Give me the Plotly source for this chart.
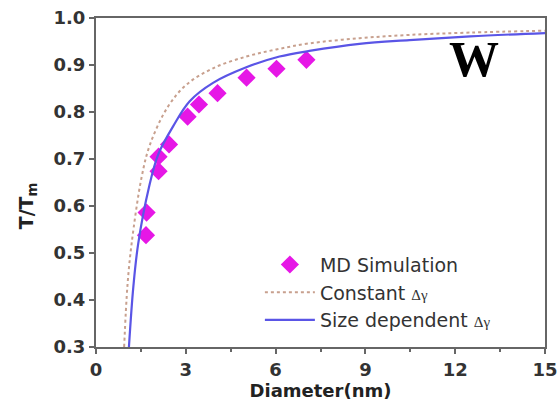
import plotly.graph_objects as go

# MD simulation points
md_d = [1.67, 1.69, 2.09, 2.09, 2.44, 3.06, 3.44, 4.06, 5.03, 6.03, 7.03]
md_t = [0.538, 0.586, 0.674, 0.705, 0.731, 0.790, 0.816, 0.840, 0.873, 0.892, 0.911]

# Constant delta-gamma curve
const_d = [0.94, 1.05, 1.19, 1.52, 1.80, 2.39, 3.02, 3.91, 5.02, 6.02, 7.13, 8.80, 10.47, 12.50, 15.00]
const_t = [0.30, 0.43, 0.52, 0.66, 0.73, 0.81, 0.858, 0.893, 0.918, 0.933, 0.946, 0.957, 0.964, 0.969, 0.973]

# Size dependent delta-gamma curve
size_d = [1.10, 1.25, 1.41, 1.77, 2.08, 2.58, 3.13, 3.91, 5.02, 6.13, 7.13, 8.80, 10.47, 12.50, 15.00]
size_t = [0.30, 0.43, 0.52, 0.64, 0.71, 0.77, 0.823, 0.862, 0.895, 0.918, 0.930, 0.945, 0.953, 0.961, 0.968]

x_ticks = [0, 3, 6, 9, 12, 15]
y_ticks = [0.3, 0.4, 0.5, 0.6, 0.7, 0.8, 0.9, 1.0]

dg = "<span style='font-family:Liberation Serif;font-size:15px'>Δγ</span>"

fig = go.Figure()
fig.add_trace(go.Scatter(
    x=md_d, y=md_t, mode="markers", name="MD Simulation",
    marker=dict(symbol="diamond", size=14, color="#E617E6"),
))
fig.add_trace(go.Scatter(
    x=const_d, y=const_t, mode="lines", name="Constant " + dg,
    line=dict(color="#C8A08E", width=2, dash="dot", shape="spline"),
))
fig.add_trace(go.Scatter(
    x=size_d, y=size_t, mode="lines", name="Size dependent " + dg,
    line=dict(color="#5A55E6", width=2.2, shape="spline"),
))

tick_font = dict(family="DejaVu Sans", size=18, color="#333333", weight="bold")

fig.update_layout(
    width=558, height=410, autosize=False,
    margin=dict(l=96, r=13, t=18, b=63),
    paper_bgcolor="white", plot_bgcolor="white",
    showlegend=True,
    legend=dict(
        x=0.365, y=0.308, xanchor="left", yanchor="top",
        bgcolor="rgba(0,0,0,0)",
        font=dict(family="DejaVu Sans", size=19, color="#333333"),
        tracegroupgap=0, itemwidth=50,
    ),
    xaxis=dict(
        range=[0, 15], tickvals=x_ticks, ticktext=[str(v) for v in x_ticks],
        automargin=False,
        showgrid=False, zeroline=False,
        showline=True, linecolor="#666666", linewidth=2, mirror=True,
        ticks="outside", ticklen=5, tickwidth=1.5, tickcolor="#666666",
        minor=dict(tickvals=[1.5, 4.5, 7.5, 10.5, 13.5], ticks="outside", ticklen=3, tickcolor="#666666"),
        tickfont=tick_font,
        title=dict(text="<b>Diameter(nm)</b>", font=dict(family="DejaVu Sans", size=18, color="#222222"), standoff=6),
    ),
    yaxis=dict(
        range=[0.3, 1.0], tickvals=y_ticks, ticktext=[f"{v:.1f}" for v in y_ticks],
        automargin=False,
        showgrid=False, zeroline=False,
        showline=True, linecolor="#666666", linewidth=2, mirror=True,
        ticks="outside", ticklen=5, tickwidth=1.5, tickcolor="#666666",
        tickfont=tick_font,
    ),
    annotations=[
        dict(
            x=12.62, y=0.912, xref="x", yref="y", text="<b>W</b>", showarrow=False,
            font=dict(family="Liberation Serif", size=50, color="black"),
        ),
        dict(
            x=-0.152, y=0.43, xref="paper", yref="paper", xanchor="center", yanchor="middle",
            text="<b>T/T<sub>m</sub></b>", textangle=-90, showarrow=False,
            font=dict(family="DejaVu Sans", size=19, color="#222222"),
        ),
    ],
)

post = (
    "document.documentElement.style.overflow='hidden';"
    "document.body.style.overflow='hidden';"
    "document.body.style.margin='0';"
    "var gd=document.getElementById('{plot_id}');"
    "if(gd){Plotly.relayout(gd,{width:558,height:410});}"
)
fig.write_html("out.html", post_script=post,
               config={"displayModeBar": False, "responsive": False})
